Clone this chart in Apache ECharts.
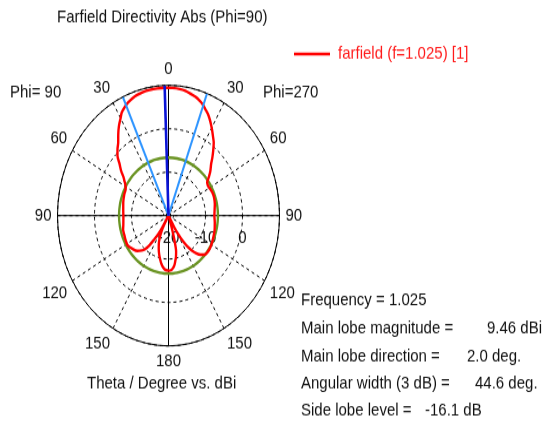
<!DOCTYPE html>
<html>
<head>
<meta charset="utf-8">
<script src="https://cdn.jsdelivr.net/npm/echarts@6/dist/echarts.min.js"></script>
<style>
  html, body { margin: 0; padding: 0; background: #fff; overflow: hidden; }
  #wrap { width: 547px; height: 426px; overflow: hidden; }
  /* the plot is drawn on a square grid and stretched vertically, like the CST window */
  #chart { width: 547px; height: 363px; transform: scaleY(1.1736); transform-origin: 0 0; }
</style>
</head>
<body>
<div id="wrap"><div id="chart"></div></div>
<script>
// Theta cut at Phi=90 / Phi=270. Angle measured clockwise from broadside:
// negative = Phi=90 half (left), positive = Phi=270 half (right).
const thetaDeg = [
  -180, -176, -173, -170, -167, -164, -161, -158, -155, -152.5, -151, -150,
  -148.5, -147, -145, -143, -140.5, -138, -134, -129, -122, -116, -111, -105,
  -100, -92, -84, -76, -68, -62, -58, -56, -54, -51, -48, -45, -42, -39, -36,
  -33, -30, -28, -25.5, -23, -20, -17, -13.5, -10, -6, -2, 2, 6, 9, 12, 15,
  17.5, 20, 22, 24.5, 26.5, 29, 31, 33.5, 36, 39, 41.5, 44, 48, 51, 53.5, 57,
  61, 66, 71, 78, 85, 90, 97, 105, 112, 118, 124, 129, 133, 136, 139, 142,
  144.5, 146.5, 148.5, 150, 151.5, 161, 162.5, 163.5, 164.5, 166, 168, 170,
  172, 174.5, 177, 180
];
// Directivity in dBi (the plot floor is -20 dBi)
const directivity = [
  -7.3, -7.5, -8.0, -8.8, -9.8, -10.8, -11.9, -13.0, -14.4, -16.0, -17.5, -20,
  -16.5, -14.8, -13.4, -11.4, -9.9, -9.2, -8.3, -7.7, -7.0, -7.1, -7.25, -7.3,
  -7.6, -7.8, -7.7, -7.4, -7.1, -6.9, -6.2, -5.6, -5.0, -3.5, -2.2, -0.5, 0.6, 1.6, 3.1,
  4.6, 5.9, 6.9, 7.6, 8.2, 8.7, 9.05, 9.3, 9.4, 9.45, 9.46, 9.42, 9.32, 9.1, 8.7, 8.3,
  7.8, 7.2, 6.5, 5.7, 4.9, 3.8, 2.9, 1.8, 0.8, -0.8, -2.1, -3.4, -4.8, -6.0, -7.0, -7.3,
  -7.2, -7.0, -7.0, -7.2, -7.5, -7.6, -7.4, -7.1, -6.9, -6.7, -6.5, -6.5, -6.8, -7.5, -8.5, -9.9,
  -11.4, -13.0, -15.0, -17.0, -20, -20, -17.5, -15.5, -13.5, -11.5, -10.3, -9.4,
  -8.5, -7.8, -7.4, -7.3
];

// Radial scale (dBi) and angular grid
const radiusTicks = [-20, -10, 0, 10];
const angleStep = 30;

// Summary of the cut
const frequency = '1.025';
const mainLobeMagnitude = 9.46;   // dBi
const mainLobeDirection = 2.0;    // deg, towards the Phi=90 side
const angularWidth = 44.6;        // deg, 3 dB
const sideLobeLevel = -16.1;      // dB relative to main lobe

const summaryLabels = [
  'Frequency = ' + frequency,
  'Main lobe magnitude =',
  'Main lobe direction =',
  'Angular width (3 dB) =',
  'Side lobe level ='
];
const summaryValues = [
  '',
  mainLobeMagnitude.toFixed(2) + ' dBi',
  mainLobeDirection.toFixed(1) + ' deg.',
  angularWidth.toFixed(1) + ' deg.',
  sideLobeLevel.toFixed(1) + ' dB'
];
const summaryValueX = [0, 487, 467, 475, 425];
const summaryRowY = [255.8, 279.5, 303.6, 326.6, 349.6];

const FONT = '"Liberation Sans", Arial, sans-serif';
const rMin = radiusTicks[0], rMax = radiusTicks[radiusTicks.length - 1];
const center = [168.5, 183.7];
const plotRadius = 111;

const curve = thetaDeg.map((t, i) => [directivity[i], t]);

// reference lines derived from the summary values
const mainDir = -mainLobeDirection;
const beamEdges = [mainDir - angularWidth / 2, mainDir + angularWidth / 2];
const sllAbs = mainLobeMagnitude + sideLobeLevel;
const sllRing = [];
for (let a = -180; a <= 180; a += 5) sllRing.push([sllAbs, a]);

const chart = echarts.init(document.getElementById('chart'), null, { renderer: 'canvas' });

const graphic = [
  { type: 'text', x: 57, y: 15.3, style: { text: 'Farfield Directivity Abs (Phi=90)', fill: '#111', font: '15px ' + FONT, verticalAlign: 'middle' } },
  { type: 'text', x: 10, y: 78.6, style: { text: 'Phi= 90', fill: '#111', font: '15px ' + FONT, verticalAlign: 'middle' } },
  { type: 'text', x: 263, y: 78.6, style: { text: 'Phi=270', fill: '#111', font: '15px ' + FONT, verticalAlign: 'middle' } },
  { type: 'text', x: 87, y: 326.6, style: { text: 'Theta / Degree vs. dBi', fill: '#111', font: '15px ' + FONT, verticalAlign: 'middle' } }
];
summaryLabels.forEach((s, i) => {
  graphic.push({ type: 'text', x: 301, y: summaryRowY[i], style: { text: s, fill: '#111', font: '15px ' + FONT, verticalAlign: 'middle' } });
  if (summaryValues[i]) {
    graphic.push({ type: 'text', x: summaryValueX[i], y: summaryRowY[i], style: { text: summaryValues[i], fill: '#111', font: '15px ' + FONT, verticalAlign: 'middle' } });
  }
});

chart.setOption({
  animation: false,
  backgroundColor: '#fff',
  textStyle: { fontFamily: FONT },
  polar: [
    { center: center, radius: plotRadius },
    { center: center, radius: plotRadius },
    { center: center, radius: 5 }
  ],
  angleAxis: [
    {
      polarIndex: 0, type: 'value', min: -180, max: 180, interval: angleStep,
      startAngle: -90, clockwise: true, z: 1,
      axisLine: { show: true, lineStyle: { color: '#000', width: 1 } },
      axisTick: { show: false },
      axisLabel: { show: true, margin: 6, color: '#111', fontSize: 15, fontFamily: FONT,
        formatter: v => String(Math.abs(v)) },
      splitLine: { show: true, lineStyle: { color: '#000', width: 1, type: [3, 3] } }
    },
    {
      polarIndex: 1, type: 'value', min: 0, max: 360, interval: 90,
      startAngle: 0, clockwise: true, z: 2,
      axisLine: { show: false }, axisTick: { show: false }, axisLabel: { show: false },
      splitLine: { show: true, lineStyle: { color: '#000', width: 1, type: 'solid' } }
    },
    {
      polarIndex: 2, type: 'value', min: 0, max: 360, startAngle: 0, z: 1,
      axisLine: { show: true, lineStyle: { color: '#000', width: 1, type: [2, 3] } },
      axisTick: { show: false }, axisLabel: { show: false }, splitLine: { show: false }
    }
  ],
  radiusAxis: [
    {
      polarIndex: 0, type: 'value', min: rMin, max: rMax, interval: 10,
      axisLine: { show: false }, axisTick: { show: false }, axisLabel: { show: false },
      splitLine: { show: false }
    },
    {
      polarIndex: 1, type: 'value', min: rMin, max: rMax, interval: 10, z: 2,
      axisLine: { show: false }, axisTick: { show: false },
      axisLabel: { show: true, showMaxLabel: false, margin: -19, verticalAlign: 'middle', align: 'center',
        color: '#111', fontSize: 15, fontFamily: FONT },
      splitLine: { show: true, lineStyle: { color: '#000', width: 1, type: [3, 3] } }
    },
    {
      polarIndex: 2, type: 'value', min: 0, max: 1,
      axisLine: { show: false }, axisTick: { show: false }, axisLabel: { show: false },
      splitLine: { show: false }
    }
  ],
  legend: {
    data: ['farfield (f=1.025) [1]'],
    left: 294, top: 38.5, padding: 0,
    icon: 'rect', itemWidth: 36, itemHeight: 2.6,
    selectedMode: false,
    textStyle: { color: '#ff1a1a', fontSize: 15, fontFamily: FONT, padding: [0, 0, 0, 3] }
  },
  series: [
    {
      name: 'side lobe level', type: 'line', coordinateSystem: 'polar', polarIndex: 0,
      data: sllRing, symbol: 'none', smooth: true, silent: true, z: 3,
      lineStyle: { color: '#6b9424', width: 2.4 }
    },
    {
      name: 'farfield (f=1.025) [1]', type: 'line', coordinateSystem: 'polar', polarIndex: 0,
      data: curve, symbol: 'none', smooth: 0.25, z: 4,
      itemStyle: { color: '#ff0000' },
      lineStyle: { color: '#ff0000', width: 2.4 }
    },
    {
      name: '3 dB edge left', type: 'line', coordinateSystem: 'polar', polarIndex: 0,
      data: [[rMin, beamEdges[0]], [rMax, beamEdges[0]]], symbol: 'none', silent: true, z: 5,
      lineStyle: { color: '#2f95ff', width: 2 }
    },
    {
      name: '3 dB edge right', type: 'line', coordinateSystem: 'polar', polarIndex: 0,
      data: [[rMin, beamEdges[1]], [rMax, beamEdges[1]]], symbol: 'none', silent: true, z: 5,
      lineStyle: { color: '#2f95ff', width: 2 }
    },
    {
      name: 'main lobe direction', type: 'line', coordinateSystem: 'polar', polarIndex: 0,
      data: [[rMin, mainDir], [rMax, mainDir]], symbol: 'none', silent: true, z: 6,
      lineStyle: { color: '#0a14d6', width: 2.6 }
    }
  ],
  graphic: graphic
});
</script>
</body>
</html>
